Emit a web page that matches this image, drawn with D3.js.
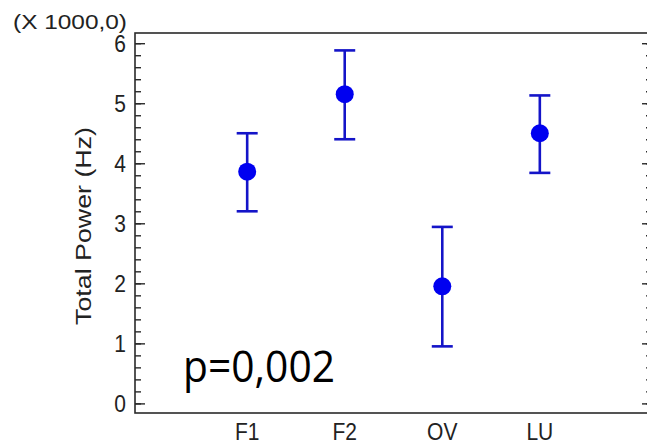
<!DOCTYPE html>
<html>
<head>
<meta charset="utf-8">
<script src="https://cdn.jsdelivr.net/npm/d3@7"></script>
<style>
  body { margin: 0; background: #fff; }
  svg { display: block; }
</style>
</head>
<body>
<svg id="vis" width="647" height="446"></svg>
<script>
var vis = d3.select("#vis");

// values (units of 1000 Hz)
var groups = ["F1", "F2", "OV", "LU"];
var means = [3.86, 5.15, 1.95, 4.50];
var upper = [4.50, 5.88, 2.94, 5.13];
var lower = [3.20, 4.40, 0.95, 3.84];
var yTicks = [0, 1, 2, 3, 4, 5, 6];
var minorTicks = d3.range(0, 6.01, 0.2);

// plot frame (right edge sits just off the page, like the source)
var frameL = 135, frameR = 652, frameT = 33, frameB = 413;
var blue = "#1414c8";
var font = "Liberation Sans, Arial, sans-serif";
var stretchY = 1.15; // source text is a bit taller than it is wide

var x = d3.scalePoint().domain(groups).range([frameL, frameR]).padding(1.15);
var y = d3.scaleLinear().domain([-0.16, 6.17]).range([frameB, frameT]);

vis.append("rect")
    .attr("x", frameL).attr("y", frameT)
    .attr("width", frameR - frameL).attr("height", frameB - frameT)
    .attr("fill", "none")
    .attr("stroke", "#2a2a2a")
    .attr("stroke-width", 1.6);

// minor ticks, both sides
var minorG = vis.append("g");
minorG.append("g").attr("transform", `translate(${frameL},0)`)
    .call(d3.axisLeft(y).tickValues(minorTicks).tickSize(-6).tickFormat(""));
minorG.append("g").attr("transform", `translate(${frameR},0)`)
    .call(d3.axisRight(y).tickValues(minorTicks).tickSize(-6).tickFormat(""));

// major ticks
var yAxis = vis.append("g").attr("transform", `translate(${frameL},0)`)
    .call(d3.axisLeft(y).tickValues(yTicks).tickSize(-10).tickPadding(9).tickFormat(d3.format("d")));
vis.append("g").attr("transform", `translate(${frameR},0)`)
    .call(d3.axisRight(y).tickValues(yTicks).tickSize(-10).tickFormat(""));

vis.selectAll(".domain").remove();
vis.selectAll(".tick line").attr("stroke", "#2a2a2a").attr("stroke-width", 1.4);

yAxis.selectAll("text")
    .attr("font-family", font)
    .attr("font-size", "21px")
    .attr("fill", "#222")
    .attr("dy", "0.34em")
    .attr("transform", `scale(1,${stretchY})`);

// category labels (cut by the page edge in the source, kept just inside here)
vis.append("g").selectAll("text")
    .data(groups)
    .join("text")
    .attr("transform", d => `translate(${x(d)},440) scale(1,${stretchY})`)
    .attr("text-anchor", "middle")
    .attr("font-family", font)
    .attr("font-size", "21px")
    .attr("fill", "#222")
    .text(d => d);

// multiplier label
vis.append("text")
    .attr("transform", `translate(13,29) scale(1,1.05)`)
    .attr("font-family", font)
    .attr("font-size", "20px")
    .attr("fill", "#222")
    .attr("textLength", 114)
    .attr("lengthAdjust", "spacingAndGlyphs")
    .text("(X 1000,0)");

// y title
vis.append("text")
    .attr("transform", "translate(91,226) rotate(-90)")
    .attr("text-anchor", "middle")
    .attr("font-family", font)
    .attr("font-size", "22px")
    .attr("fill", "#222")
    .attr("textLength", 198)
    .attr("lengthAdjust", "spacingAndGlyphs")
    .text("Total Power (Hz)");

// error bars
var data = groups.map((g, i) => ({ g: g, m: means[i], hi: upper[i], lo: lower[i] }));
var bars = vis.append("g").selectAll("g")
    .data(data)
    .join("g")
    .attr("stroke", blue)
    .attr("stroke-width", 2.6);

bars.append("line")
    .attr("x1", d => x(d.g)).attr("x2", d => x(d.g))
    .attr("y1", d => y(d.hi)).attr("y2", d => y(d.lo));
bars.append("line")
    .attr("x1", d => x(d.g) - 10.5).attr("x2", d => x(d.g) + 10.5)
    .attr("y1", d => y(d.hi)).attr("y2", d => y(d.hi));
bars.append("line")
    .attr("x1", d => x(d.g) - 10.5).attr("x2", d => x(d.g) + 10.5)
    .attr("y1", d => y(d.lo)).attr("y2", d => y(d.lo));

vis.append("g").selectAll("circle")
    .data(data)
    .join("circle")
    .attr("cx", d => x(d.g))
    .attr("cy", d => y(d.m))
    .attr("r", 9)
    .attr("fill", "#0000f0");

// p value annotation
vis.append("text")
    .attr("x", 183).attr("y", 382)
    .attr("font-family", "Open Sans, sans-serif")
    .attr("font-size", "44px")
    .attr("fill", "#000")
    .attr("textLength", 152)
    .attr("lengthAdjust", "spacingAndGlyphs")
    .text("p=0,002");
</script>
</body>
</html>
